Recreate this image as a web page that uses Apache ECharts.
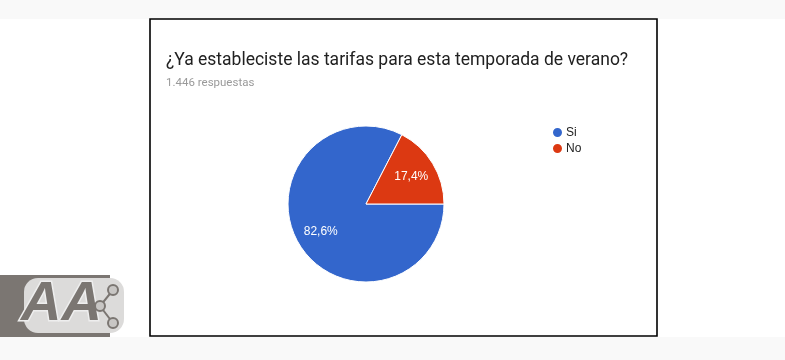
<!DOCTYPE html>
<html>
<head>
<meta charset="utf-8">
<script src="https://cdn.jsdelivr.net/npm/echarts@6/dist/echarts.min.js"></script>
<style>
html,body{margin:0;padding:0;background:#ffffff;}
#chart{width:785px;height:360px;}
</style>
</head>
<body>
<div id="chart"></div>
<script>
var titleText = '¿Ya estableciste las tarifas para esta temporada de verano?';
var subtitleText = '1.446 respuestas';
var categories = ['Si', 'No'];
var values = [82.6, 17.4];
var colors = ['#3366CC', '#DC3912'];

var chart = echarts.init(document.getElementById('chart'), null, {renderer: 'canvas'});

var pieData = categories.map(function (c, i) {
  return {name: c, value: values[i], itemStyle: {color: colors[i]}};
});

function fmt(p) {
  return p.value.toFixed(1).replace('.', ',') + '%';
}

var option = {
  backgroundColor: '#ffffff',
  animation: false,
  title: {
    text: titleText,
    subtext: subtitleText,
    left: 161,
    top: 47,
    itemGap: 7,
    textStyle: {fontFamily: 'Roboto', fontSize: 17.5, fontWeight: 'normal', color: '#212121'},
    subtextStyle: {fontFamily: 'Roboto', fontSize: 11.5, color: '#9a9a9a'}
  },
  legend: {
    orient: 'vertical',
    left: 546,
    top: 121,
    icon: 'circle',
    itemWidth: 11,
    itemHeight: 11,
    itemGap: 3,
    data: categories.map(function (c, i) { return {name: c, itemStyle: {color: colors[i]}}; }),
    textStyle: {fontFamily: 'Arial, Liberation Sans', fontSize: 12, color: '#222222', padding: [0, 0, 0, -2]}
  },
  graphic: [
    {type: 'rect', silent: true, z: -10, shape: {x: 0, y: 0, width: 785, height: 19}, style: {fill: '#f9f9f9'}},
    {type: 'rect', silent: true, z: -10, shape: {x: 0, y: 337, width: 785, height: 23}, style: {fill: '#f9f9f9'}},
    {type: 'rect', silent: true, z: -5, shape: {x: 150, y: 19, width: 507, height: 317}, style: {fill: '#ffffff', stroke: '#000000', lineWidth: 1.6}},
    {type: 'rect', silent: true, z: 5, shape: {x: 0, y: 275, width: 110, height: 62}, style: {fill: '#7b7672'}},
    {type: 'rect', silent: true, z: 5, shape: {x: 24, y: 278, width: 100, height: 55, r: 14}, style: {fill: '#dcdbda'}},
    {type: 'text', silent: true, z: 6, style: {x: 21, y: 277, text: 'AA', font: 'italic bold 56px Arial, Liberation Sans', fill: '#7b7672', stroke: '#eeeeee', lineWidth: 3}},
    {type: 'polyline', silent: true, z: 6, shape: {points: [[113, 290], [100, 306], [113, 323]]}, style: {stroke: '#7b7672', lineWidth: 2, fill: null}},
    {type: 'circle', silent: true, z: 7, shape: {cx: 113, cy: 290, r: 5}, style: {fill: '#c8c6c4', stroke: '#7b7672', lineWidth: 2}},
    {type: 'circle', silent: true, z: 7, shape: {cx: 100, cy: 306, r: 5}, style: {fill: '#c8c6c4', stroke: '#7b7672', lineWidth: 2}},
    {type: 'circle', silent: true, z: 7, shape: {cx: 113, cy: 323, r: 5}, style: {fill: '#c8c6c4', stroke: '#7b7672', lineWidth: 2}}
  ],
  series: [
    {
      type: 'pie',
      center: [366, 204],
      radius: [0, 78],
      startAngle: 0,
      clockwise: true,
      silent: true,
      label: {show: false},
      labelLine: {show: false},
      itemStyle: {borderColor: '#ffffff', borderWidth: 1},
      data: pieData
    },
    {
      type: 'pie',
      center: [366, 204],
      radius: [0, 100],
      startAngle: 0,
      clockwise: true,
      silent: true,
      z: 3,
      itemStyle: {color: 'rgba(0,0,0,0)', borderWidth: 0},
      label: {show: true, position: 'inside', formatter: fmt, color: '#ffffff', fontFamily: 'Arial, Liberation Sans', fontSize: 12, textBorderWidth: 0},
      labelLine: {show: false},
      data: categories.map(function (c, i) { return {name: c, value: values[i]}; })
    }
  ]
};
chart.setOption(option);
</script>
</body>
</html>
